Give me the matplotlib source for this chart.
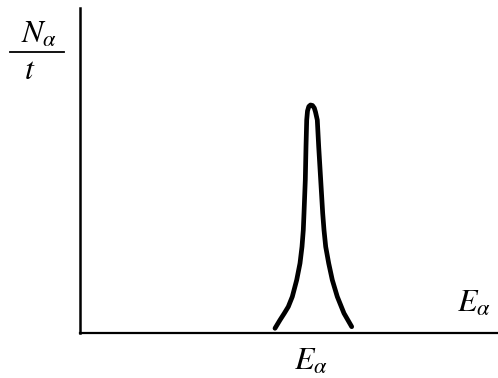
import numpy as np
import matplotlib.pyplot as plt

plt.rcParams['mathtext.fontset'] = 'stix'

# alpha-particle spectrum: energy (arbitrary units) vs count rate
energy = [195, 200, 204.3, 208.3, 212.3, 216.7, 220, 222, 223.3, 224, 225.3, 226, 226.7,
          227.5, 228.8, 230.5, 232.5, 234.3, 235.5, 237.3, 238.7, 240.7, 242.7, 244,
          245.7, 248.7, 252.3, 257.3, 264, 271.7]
rate = [4.7, 13, 19.7, 26.3, 36.3, 53, 69.7, 86.3, 103, 119.7, 153, 186.3, 213,
        222, 226.5, 228, 227.5, 225, 221, 213, 186.3, 153, 119.7, 103,
        86.3, 69.7, 53, 36.3, 19.7, 6.3]
peak_energy = 231
peak_label = r'$E_\alpha$'

fig = plt.figure(figsize=(4.98, 3.78), dpi=100)
ax = fig.add_axes([80 / 498, 45 / 378, 418 / 498, 325 / 378])

ax.plot(energy, rate, color='black', lw=3.4, solid_capstyle='round', solid_joinstyle='round')

ax.set_xlim(0, 418)
ax.set_ylim(0, 325)
for s in ['top', 'right']:
    ax.spines[s].set_visible(False)
ax.spines['left'].set_linewidth(1.8)
ax.spines['bottom'].set_linewidth(1.6)
ax.set_yticks([])
ax.set_xticks([peak_energy])
ax.set_xticklabels([peak_label], fontsize=23)
ax.tick_params(axis='x', length=0, pad=9)

# axis labels
fig.text(457 / 498, 1 - 312 / 378, r'$E_\alpha$', fontsize=23, va='baseline', ha='left')
fig.text(39 / 498, 1 - 43 / 378, r'$N_\alpha$', fontsize=23, va='baseline', ha='center')
fig.add_artist(plt.Line2D([10 / 498, 64 / 498], [1 - 52 / 378, 1 - 52 / 378],
                          color='black', lw=1.3, transform=fig.transFigure))
fig.text(30 / 498, 1 - 79 / 378, r'$t$', fontsize=23, va='baseline', ha='center')

fig.savefig('out.png', dpi=100)
